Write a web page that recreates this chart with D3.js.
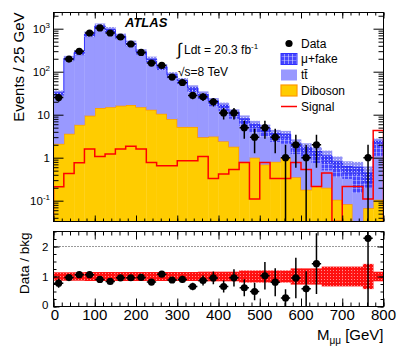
<!DOCTYPE html>
<html>
<head>
<meta charset="utf-8">
<script src="https://cdn.jsdelivr.net/npm/d3@7"></script>
<style>
  body { margin: 0; background: #fff; }
  svg text { font-family: "Liberation Sans", Arial, Helvetica, sans-serif; }
</style>
</head>
<body>
<svg id="chart" width="415" height="356"></svg>
<script>
// M_mumu bins, 25 GeV wide, 0..800
const binEdges = d3.range(0, 825, 25);
const dataCounts = [25, 197, 297, 795, 1040, 795, 641, 441, 281, 159, 140, 75, 56, 28, 26, 20,
                    11, 11, 5, 3, 5, 3, 1, 2, 1, 2, 0, 0, 0, 0, 1, 0];
const diboson = [2.1, 3.6, 5.8, 9.5, 14.3, 15, 16.2, 16.8, 15, 13, 10.5, 7.9, 5.2, 5.2, 3.0, 3.1,
                 2.4, 1.8, 0.8, 1.0, 0.69, 0.8, 1.0, 0.35, 0.18, 0.22, 0.2, 0.105, 0.083, 0, 0.067, 0.105];
const ttbar = [27, 181, 244, 650, 996, 815, 569, 383, 235, 152, 97.5, 62, 44.8, 27.8, 20, 12.4,
               9.6, 6.2, 4.7, 2.8, 2.4, 1.5, 1.1, 0.85, 0.77, 0.53, 0.3, 0.245, 0.237, 0.15, 0.133, 0.995];
const muFake = [3, 20, 30, 90, 140, 120, 85, 60, 40, 30, 22, 15, 12, 9, 7, 5.5,
                4.5, 3.5, 2.5, 2.2, 1.8, 1.4, 1.4, 0.9, 0.75, 0.65, 0.6, 0.45, 0.3, 0.45, 0.24, 1.3];
const signal = [0.21, 0.43, 0.76, 1.6, 1.07, 1.22, 1.6, 1.85, 1.6, 0.77, 0.65, 0.65, 0.85, 0.85, 1.07, 0.33,
                0.42, 0.53, 0.77, 0.11, 0.77, 0.33, 0.33, 0.77, 0.53, 0.215, 0.44, 0, 0.215, 0.215, 0.11, 4.3];
// relative uncertainty of total background
const bkgErr = [0.14, 0.14, 0.14, 0.15, 0.15, 0.15, 0.15, 0.15, 0.15, 0.15, 0.15, 0.15, 0.15, 0.15, 0.16, 0.16,
                0.16, 0.16, 0.2, 0.2, 0.2, 0.2, 0.2, 0.27, 0.27, 0.27, 0.33, 0.33, 0.33, 0.33, 0.42, 0.16];

const xTicks = d3.range(0, 900, 100);
const xMinor = d3.range(0, 820, 20);
const yDecades = [0.1, 1, 10, 100, 1000];
const yDecadeLabels = [['10', '-1'], ['1', ''], ['10', ''], ['10', '2'], ['10', '3']];
const ratioTicks = [0, 1, 2];
const ratioMinor = d3.range(0, 2.51, 0.25);

const svg = d3.select('#chart');
const L = 53.5, R = 383.5;
const mainT = 12.5, mainB = 221.5, ratT = 231.5, ratB = 306.5;

const x = d3.scaleLinear().domain([0, 800]).range([L, R]);
const y = d3.scaleLog().domain([0.0328, 2380]).range([mainB, mainT]).clamp(true);
const yr = d3.scaleLinear().domain([0, 2.5]).range([ratB, ratT]).clamp(true);
const yv = v => y(Math.max(v, 1e-4));

const nb = dataCounts.length;
const stack1 = diboson;
const stack2 = diboson.map((d, i) => d + ttbar[i]);
const total = stack2.map((d, i) => d + muFake[i]);

// patterns
const defs = svg.append('defs');
const pf = defs.append('pattern').attr('id', 'fakePat').attr('patternUnits', 'userSpaceOnUse')
  .attr('width', 4).attr('height', 4);
pf.append('rect').attr('width', 4).attr('height', 4).attr('fill', '#4646ff');
pf.append('rect').attr('x', 0).attr('y', 0).attr('width', 1).attr('height', 4).attr('fill', '#fff').attr('opacity', 0.45);
pf.append('rect').attr('x', 0).attr('y', 0).attr('width', 4).attr('height', 1).attr('fill', '#fff').attr('opacity', 0.3);
const pb = defs.append('pattern').attr('id', 'bandPat').attr('patternUnits', 'userSpaceOnUse')
  .attr('width', 3).attr('height', 3);
pb.append('rect').attr('width', 3).attr('height', 3).attr('fill', 'rgba(40,40,240,0.5)');
pb.append('rect').attr('width', 1).attr('height', 1).attr('fill', '#fff').attr('opacity', 0.7);
const pr = defs.append('pattern').attr('id', 'ratioPat').attr('patternUnits', 'userSpaceOnUse')
  .attr('width', 3).attr('height', 3);
pr.append('rect').attr('width', 3).attr('height', 3).attr('fill', '#ff1010');
pr.append('rect').attr('width', 1).attr('height', 1).attr('fill', '#ff8c8c');

defs.append('clipPath').attr('id', 'clipMain').append('rect')
  .attr('x', L).attr('y', mainT).attr('width', R - L).attr('height', mainB - mainT);
defs.append('clipPath').attr('id', 'clipRatio').append('rect')
  .attr('x', L).attr('y', ratT).attr('width', R - L).attr('height', ratB - ratT);

const main = svg.append('g').attr('clip-path', 'url(#clipMain)');

function bars(g, lo, hi, fill) {
  g.selectAll(null).data(d3.range(nb)).join('rect')
    .attr('x', i => x(binEdges[i]))
    .attr('width', i => x(binEdges[i + 1]) - x(binEdges[i]) + 0.3)
    .attr('y', i => yv(hi[i]))
    .attr('height', i => Math.max(0, yv(lo ? lo[i] : 0) - yv(hi[i])))
    .attr('fill', fill);
}
function stepPath(vals) {
  const pts = [[binEdges[0], 0]];
  vals.forEach((v, i) => { pts.push([binEdges[i], v]); pts.push([binEdges[i + 1], v]); });
  pts.push([binEdges[nb], 0]);
  return d3.line().x(p => x(p[0])).y(p => yv(p[1]))(pts);
}

bars(main.append('g'), null, stack1, '#ffcc00');
main.append('path').attr('d', stepPath(stack1)).attr('fill', 'none').attr('stroke', '#ff9900').attr('stroke-width', 1.5);
bars(main.append('g'), stack1, stack2, '#9999ff');
bars(main.append('g'), stack2, total, 'url(#fakePat)');
main.append('path').attr('d', stepPath(total)).attr('fill', 'none').attr('stroke', '#3030ff').attr('stroke-width', 1);
// uncertainty band
bars(main.append('g'), total.map((t, i) => t * (1 - bkgErr[i])), total.map((t, i) => t * (1 + bkgErr[i])), 'url(#bandPat)');
// signal
main.append('path').attr('d', stepPath(signal)).attr('fill', 'none').attr('stroke', '#ff0000').attr('stroke-width', 1.5);

// data
const dg = main.append('g');
d3.range(nb).filter(i => dataCounts[i] > 0).forEach(i => {
  const n = dataCounts[i], e = Math.sqrt(n);
  const cx = x((binEdges[i] + binEdges[i + 1]) / 2);
  dg.append('line').attr('x1', cx).attr('x2', cx).attr('y1', yv(n + e)).attr('y2', yv(n - e))
    .attr('stroke', '#000').attr('stroke-width', 1.5);
  dg.append('line').attr('x1', x(binEdges[i]) + 0.5).attr('x2', x(binEdges[i + 1]) - 0.5).attr('y1', yv(n)).attr('y2', yv(n))
    .attr('stroke', '#000').attr('stroke-width', 1.5);
  dg.append('circle').attr('cx', cx).attr('cy', yv(n)).attr('r', 3.6).attr('fill', '#000');
});

// ratio panel
const rat = svg.append('g').attr('clip-path', 'url(#clipRatio)');
rat.selectAll(null).data(d3.range(nb)).join('rect')
  .attr('x', i => x(binEdges[i]))
  .attr('width', i => x(binEdges[i + 1]) - x(binEdges[i]) + 0.3)
  .attr('y', i => yr(1 + bkgErr[i]))
  .attr('height', i => yr(1 - bkgErr[i]) - yr(1 + bkgErr[i]))
  .attr('fill', 'url(#ratioPat)');
rat.append('line').attr('x1', L).attr('x2', R).attr('y1', yr(2)).attr('y2', yr(2))
  .attr('stroke', '#000').attr('stroke-width', 0.8).attr('stroke-dasharray', '1,2');
d3.range(nb).filter(i => dataCounts[i] > 0).forEach(i => {
  const n = dataCounts[i], r = n / total[i], e = Math.sqrt(n) / total[i];
  const cx = x((binEdges[i] + binEdges[i + 1]) / 2);
  rat.append('line').attr('x1', cx).attr('x2', cx).attr('y1', yr(r + e)).attr('y2', yr(r - e))
    .attr('stroke', '#000').attr('stroke-width', 1.5);
  rat.append('line').attr('x1', x(binEdges[i]) + 0.5).attr('x2', x(binEdges[i + 1]) - 0.5).attr('y1', yr(r)).attr('y2', yr(r))
    .attr('stroke', '#000').attr('stroke-width', 1.5);
  rat.append('circle').attr('cx', cx).attr('cy', yr(r)).attr('r', 3.6).attr('fill', '#000');
});

// ticks (ROOT style: inside, on all sides)
function ticks(transform, axis, vals, size) {
  const g = svg.append('g').attr('transform', transform)
    .call(axis.tickValues(vals).tickSize(size).tickFormat(''));
  g.select('.domain').remove();
  g.selectAll('line').attr('stroke', '#000');
}
const yMinor = [];
[0.01, 0.1, 1, 10, 100, 1000].forEach(d => d3.range(2, 10).forEach(k => {
  const v = d * k; if (v > 0.0328 && v < 2380) yMinor.push(v);
}));
ticks(`translate(0,${mainB})`, d3.axisBottom(x), xTicks, -6);
ticks(`translate(0,${mainB})`, d3.axisBottom(x), xMinor, -3);
ticks(`translate(0,${mainT})`, d3.axisTop(x), xTicks, -6);
ticks(`translate(0,${mainT})`, d3.axisTop(x), xMinor, -3);
ticks(`translate(${L},0)`, d3.axisLeft(y), yDecades, -10);
ticks(`translate(${L},0)`, d3.axisLeft(y), yMinor, -5);
ticks(`translate(${R},0)`, d3.axisRight(y), yDecades, -10);
ticks(`translate(${R},0)`, d3.axisRight(y), yMinor, -5);

ticks(`translate(0,${ratB})`, d3.axisBottom(x), xTicks, -8);
ticks(`translate(0,${ratB})`, d3.axisBottom(x), xMinor, -4);
ticks(`translate(0,${ratT})`, d3.axisTop(x), xTicks, -8);
ticks(`translate(0,${ratT})`, d3.axisTop(x), xMinor, -4);
ticks(`translate(${L},0)`, d3.axisLeft(yr), ratioTicks, -6);
ticks(`translate(${L},0)`, d3.axisLeft(yr), ratioMinor, -3);
ticks(`translate(${R},0)`, d3.axisRight(yr), ratioTicks, -6);
ticks(`translate(${R},0)`, d3.axisRight(yr), ratioMinor, -3);

// frames
[[mainT, mainB], [ratT, ratB]].forEach(([t, b]) => {
  svg.append('rect').attr('x', L).attr('y', t).attr('width', R - L).attr('height', b - t)
    .attr('fill', 'none').attr('stroke', '#000').attr('stroke-width', 1);
});

// tick labels
yDecades.forEach((v, i) => {
  const t = svg.append('text').attr('x', 50).attr('y', y(v) + 4.5)
    .attr('text-anchor', 'end').attr('font-size', 11.5).text(yDecadeLabels[i][0]);
  if (yDecadeLabels[i][1]) t.append('tspan').attr('dy', -5).attr('font-size', 8).text(yDecadeLabels[i][1]);
});
ratioTicks.forEach(v => {
  svg.append('text').attr('x', 48.5).attr('y', yr(v) + (v === 0 ? 2.5 : 4.5)).attr('text-anchor', 'end')
    .attr('font-size', 11.5).text(v);
});
xTicks.forEach(v => {
  svg.append('text').attr('x', x(v) + (v === 0 ? 1.5 : 0)).attr('y', 320).attr('text-anchor', 'middle')
    .attr('font-size', 15).text(v);
});

// axis titles
svg.append('text').attr('transform', 'translate(24,12.5) rotate(-90)').attr('text-anchor', 'end')
  .attr('font-size', 15).text('Events / 25 GeV');
svg.append('text').attr('transform', `translate(29,${ratT + 1}) rotate(-90)`).attr('text-anchor', 'end')
  .attr('font-size', 13.5).text('Data / bkg');
const xt = svg.append('text').attr('x', R).attr('y', 340).attr('text-anchor', 'end').attr('font-size', 15);
xt.append('tspan').text('M');
xt.append('tspan').attr('dy', 4).attr('font-size', 10).text('μμ');
xt.append('tspan').attr('dy', -4).text(' [GeV]');

// ATLAS label and lumi text
svg.append('text').attr('x', 125).attr('y', 27).attr('font-size', 13).attr('font-weight', 'bold')
  .attr('font-style', 'italic').text('ATLAS');
svg.append('text').attr('x', 177).attr('y', 55).attr('font-size', 17).text('∫');
const lumi = svg.append('text').attr('x', 184).attr('y', 54).attr('font-size', 12).text('Ldt = 20.3 fb');
lumi.append('tspan').attr('dy', -5).attr('font-size', 8).text('-1');
svg.append('text').attr('x', 178).attr('y', 76).attr('font-size', 12).text('√s=8 TeV');

// legend
const lx = 281, lw = 16, lt = 301;
const rows = [43.5, 59, 75, 90.5, 106.5];
svg.append('circle').attr('cx', lx + lw / 2).attr('cy', rows[0]).attr('r', 3.6).attr('fill', '#000');
svg.append('rect').attr('x', lx).attr('y', rows[1] - 5.5).attr('width', lw).attr('height', 11)
  .attr('fill', 'url(#fakePat)').attr('stroke', '#3030ff');
svg.append('rect').attr('x', lx).attr('y', rows[2] - 5.5).attr('width', lw).attr('height', 11)
  .attr('fill', '#9999ff');
svg.append('rect').attr('x', lx).attr('y', rows[3] - 5.5).attr('width', lw).attr('height', 11)
  .attr('fill', '#ffcc00').attr('stroke', '#ff9900').attr('stroke-width', 1.2);
svg.append('line').attr('x1', lx).attr('x2', lx + lw).attr('y1', rows[4]).attr('y2', rows[4])
  .attr('stroke', '#ff0000').attr('stroke-width', 1.5);
const legText = ['Data', 'μ+fake', 'tt̄', 'Diboson', 'Signal'];
legText.forEach((t, i) => {
  svg.append('text').attr('x', lt).attr('y', rows[i] + 4.3).attr('font-size', 12).text(t);
});
</script>
</body>
</html>
